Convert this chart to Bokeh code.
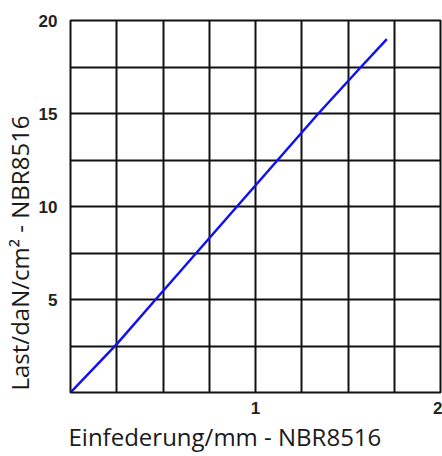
from bokeh.plotting import figure
from bokeh.models import Range1d, FixedTicker, Title
from bokeh.embed import file_html
from bokeh.resources import INLINE

# Data
deflection_mm = [0.0, 0.25, 0.46, 0.68, 0.90, 1.12, 1.34, 1.57, 1.71]
load_dan_cm2 = [0.0, 2.6, 5.0, 7.5, 10.0, 12.5, 15.0, 17.5, 19.0]

x_tick_values = [1, 2]
y_tick_values = [5, 10, 15, 20]
x_grid_values = [0, 0.25, 0.5, 0.75, 1.0, 1.25, 1.5, 1.75, 2.0]
y_grid_values = [0, 2.5, 5, 7.5, 10, 12.5, 15, 17.5, 20]

x_title = "Einfederung/mm - NBR8516"
y_title = "Last/daN/cm² - NBR8516"

p = figure(width=442, height=456, output_backend="svg", toolbar_location=None,
           x_range=Range1d(0, 2), y_range=Range1d(0, 20),
           min_border_left=70, min_border_right=2, min_border_top=20, min_border_bottom=64)

p.background_fill_color = "white"
p.border_fill_color = "white"
p.outline_line_color = "#111111"
p.outline_line_width = 2

p.xgrid.ticker = FixedTicker(ticks=x_grid_values)
p.ygrid.ticker = FixedTicker(ticks=y_grid_values)
for g in (p.xgrid, p.ygrid):
    g.grid_line_color = "#111111"
    g.grid_line_width = 2
    g.grid_line_alpha = 1.0

p.xaxis.ticker = FixedTicker(ticks=x_tick_values)
p.yaxis.ticker = FixedTicker(ticks=y_tick_values)
for ax in (p.xaxis, p.yaxis):
    ax.axis_line_color = None
    ax.major_tick_line_color = None
    ax.minor_tick_line_color = None
    ax.major_label_text_font = "Liberation Sans"
    ax.major_label_text_font_style = "bold"
    ax.major_label_text_font_size = "17px"
    ax.major_label_text_color = "#222222"
p.xaxis.major_label_standoff = 3
p.yaxis.major_label_standoff = 7

p.line(deflection_mm, load_dan_cm2, line_color="#1010f0", line_width=2.5)

xt = Title(text=x_title, align="left", offset=-2, standoff=3, text_font="Open Sans",
           text_font_size="24px", text_font_style="normal", text_color="#1a1a1a",
           text_line_height=1.0)
yt = Title(text=y_title, align="left", offset=2, standoff=0, text_font="Open Sans",
           text_font_size="24px", text_font_style="normal", text_color="#1a1a1a",
           text_line_height=1.0)
p.add_layout(xt, "below")
p.add_layout(yt, "left")

open("out.html", "w").write(file_html(p, INLINE))
